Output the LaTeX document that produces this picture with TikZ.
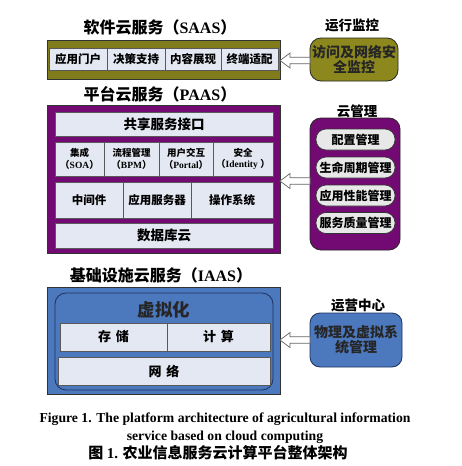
\documentclass[tikz,border=0pt]{standalone}
\usepackage{fontspec}
\setmainfont{Liberation Serif}
\newfontfamily\cjk{Noto Sans CJK SC}
\definecolor{olivebar}{RGB}{128,124,28}
\definecolor{olivebox}{RGB}{140,136,30}
\definecolor{olivedark}{RGB}{60,60,20}
\definecolor{purp}{RGB}{115,10,115}
\definecolor{purpdark}{RGB}{60,0,60}
\definecolor{bluebar}{RGB}{76,120,190}
\definecolor{bluedark}{RGB}{30,50,95}
\definecolor{cellfill}{RGB}{228,232,242}
\definecolor{pillfill}{RGB}{232,232,232}
\newcommand\fs[1]{\fontsize{#1}{#1}\selectfont}
\newcommand\cj[1]{{\cjk #1}}
\begin{document}
\begin{tikzpicture}[x=1pt,y=-1pt,
  every node/.style={inner sep=0pt, outer sep=0pt, font=\cjk\bfseries},
  cell/.style={draw=black!65, fill=cellfill, line width=0.6pt, align=center},
  outer/.style={draw=black!80, line width=0.8pt},
  rbox/.style={draw=black!85, line width=0.8pt, rounded corners=11pt, align=center},
  pill/.style={draw=black!80, fill=pillfill, line width=0.7pt, rounded corners=10pt, minimum width=79pt, minimum height=21pt, font=\cjk\bfseries\fs{12}},
  ttl/.style={font=\cjk\bfseries\fs{16}},
  lbl/.style={font=\cjk\bfseries\fs{13.5}},
  harr/.style={draw=black!60, fill=white, line width=0.7pt, line join=miter}
]
\useasboundingbox (0,0) rectangle (461,466);
\fill[white] (0,0) rectangle (461,466);

% ---------- SAAS ----------
\node[ttl] (t1) at (160,27) {软件云服务（{\rmfamily SAAS}）};
\node[outer, fill=olivebar, minimum width=233pt, minimum height=39pt] (saas) at (163.5,59.5) {};
\node[cell, minimum width=58pt, minimum height=22pt, font=\cjk\bfseries\fs{11.5}] (s1) at (78,59) {应用门户};
\node[cell, minimum width=58pt, minimum height=22pt, font=\cjk\bfseries\fs{11.5}] (s2) at (136,59) {决策支持};
\node[cell, minimum width=56pt, minimum height=22pt, font=\cjk\bfseries\fs{11.5}] (s3) at (193,59) {内容展现};
\node[cell, minimum width=57pt, minimum height=22pt, font=\cjk\bfseries\fs{11.5}] (s4) at (249.5,59) {终端适配};

\node[lbl] (l1) at (352,25) {运行监控};
\node[rbox, fill=olivebox, minimum width=88pt, minimum height=43pt, font=\cjk\bfseries\fs{14}, text=black!85] (mon) at (354,59.5) {访问及网络安\\[1pt]全监控};
\coordinate (a1) at (saas.east |- 0,60.5);
\draw[harr] (a1) -- ++(10,-7.5) -- ++(0,4.2) -- ++(20,0) -- ++(0,6.6) -- ++(-20,0) -- ++(0,4.2) -- cycle;

% ---------- PAAS ----------
\node[ttl] (t2) at (160,94) {平台云服务（{\rmfamily PAAS}）};
\node[outer, fill=purp, minimum width=233pt, minimum height=148pt] (paas) at (163.5,179) {};
\node[cell, minimum width=218pt, minimum height=24pt, font=\cjk\bfseries\fs{13.5}] (p1) at (164,124) {共享服务接口};
\node[cell, minimum width=49pt, minimum height=34pt, font=\cjk\bfseries\fs{9.5}] (p21) at (79.5,159) {集成\\[2pt]\cj{（}{\rmfamily SOA}\cj{）}};
\node[cell, minimum width=55pt, minimum height=34pt, font=\cjk\bfseries\fs{9.5}] (p22) at (131.5,159) {流程管理\\[2pt]\cj{（}{\rmfamily BPM}\cj{）}};
\node[cell, minimum width=54pt, minimum height=34pt, font=\cjk\bfseries\fs{9.5}] (p23) at (186,159) {用户交互\\[2pt]\cj{（}{\rmfamily Portal}\cj{）}};
\node[cell, minimum width=60pt, minimum height=34pt, font=\cjk\bfseries\fs{9.5}] (p24) at (243,159) {安全\\[2pt]\cj{（}{\rmfamily Identity }\cj{）}};
\node[cell, minimum width=68pt, minimum height=36pt, font=\cjk\bfseries\fs{11.5}] (p31) at (89,200) {中间件};
\node[cell, minimum width=68pt, minimum height=36pt, font=\cjk\bfseries\fs{11.5}] (p32) at (157,200) {应用服务器};
\node[cell, minimum width=82pt, minimum height=36pt, font=\cjk\bfseries\fs{11.5}] (p33) at (232,200) {操作系统};
\node[cell, minimum width=218pt, minimum height=25pt, font=\cjk\bfseries\fs{13.5}] (p4) at (164,235.5) {数据库云};

\node[lbl] (l2) at (357,111) {云管理};
\node[rbox, fill=purp, minimum width=90pt, minimum height=132pt] (cm) at (355,184) {};
\node[pill] (c1) at (355.5,139.5) {配置管理};
\node[pill] (c2) at (355.5,167.5) {生命周期管理};
\node[pill] (c3) at (355.5,195.5) {应用性能管理};
\node[pill] (c4) at (355.5,223) {服务质量管理};
\coordinate (a2) at (paas.east |- 0,181);
\draw[harr] (a2) -- ++(10,-7.5) -- ++(0,4.2) -- ++(20,0) -- ++(0,6.6) -- ++(-20,0) -- ++(0,4.2) -- cycle;

% ---------- IAAS ----------
\node[ttl] (t3) at (161,275) {基础设施云服务（{\rmfamily IAAS}）};
\node[outer, fill=bluebar, minimum width=233pt, minimum height=107pt] (iaas) at (163.5,340.5) {};
\node[draw=bluedark, line width=0.8pt, rounded corners=11pt, fill=bluebar, minimum width=218pt, minimum height=97pt] (virt) at (164,341.5) {};
\node[font=\cjk\bfseries\fs{17.5}, text=black!85] (vt) at (164,310) {虚拟化};
\node[cell, minimum width=107pt, minimum height=28pt, font=\cjk\bfseries\fs{13}] (i1) at (113.5,337) {存\hspace{5pt}储};
\node[cell, minimum width=103pt, minimum height=28pt, font=\cjk\bfseries\fs{13}] (i2) at (218.5,337) {计\hspace{5pt}算};
\node[cell, minimum width=212pt, minimum height=28pt, font=\cjk\bfseries\fs{13}] (i3) at (164,371) {网\hspace{5pt}络};

\node[lbl] (l3) at (358,305) {运营中心};
\node[rbox, fill=bluebar, draw=bluedark, rounded corners=10pt, minimum width=92pt, minimum height=54pt, font=\cjk\bfseries\fs{14}, text=black!85] (ops) at (356,340) {物理及虚拟系\\[1pt]统管理};
\coordinate (a3) at (iaas.east |- 0,340);
\draw[harr] (a3) -- ++(10,-7.5) -- ++(0,4.2) -- ++(20,0) -- ++(0,6.6) -- ++(-20,0) -- ++(0,4.2) -- cycle;

% ---------- caption ----------
\node[font=\rmfamily\bfseries\fs{13.7}] (cap1) at (225,419) {Figure 1. The platform architecture of agricultural information};
\node[font=\rmfamily\bfseries\fs{13.7}] (cap2) at (225,437) {service based on cloud computing};
\node[font=\cjk\bfseries\fs{15}] (cap3) at (218,453) {图 {\rmfamily 1.} 农业信息服务云计算平台整体架构};
\end{tikzpicture}
\end{document}
